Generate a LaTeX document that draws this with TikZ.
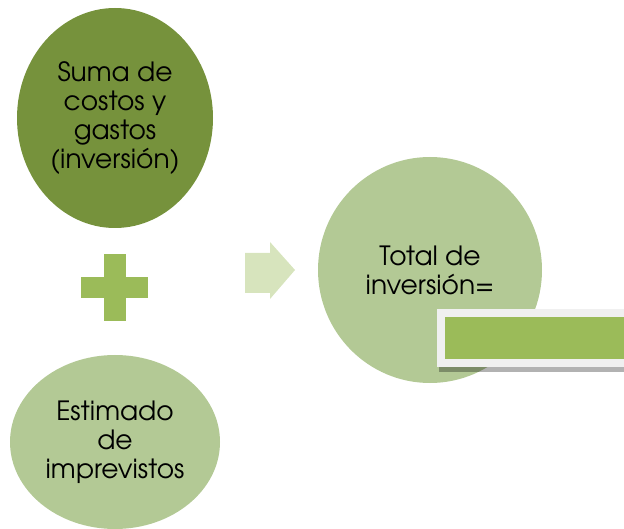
\documentclass[tikz,border=0pt]{standalone}
\usepackage{fontspec}
\setmainfont{TeX Gyre Adventor}
\usepackage{tikz}
\usetikzlibrary{positioning,calc}
\definecolor{olive}{RGB}{118, 146, 60}
\definecolor{leaf}{RGB}{155, 187, 89}
\definecolor{sage}{RGB}{179, 201, 149}
\definecolor{mint}{RGB}{215, 228, 189}
\definecolor{frame}{RGB}{240, 240, 240}

\tikzset{
  label text/.style={align=center, font=\fontsize{26.5}{29}\selectfont, text=black}
}

\begin{document}
\begin{tikzpicture}[x=1pt, y=-1pt]
        \useasboundingbox (0,0) rectangle (624,529);

        % suma de costos
        \fill[olive] (115,118) ellipse (98pt and 110pt);
        \node[label text] (suma) at (115,118) {Suma de\\costos y\\gastos\\(inversión)};

        % signo mas
        \fill[leaf] (104,254) rectangle (126,321);
        \fill[leaf] (81,277) rectangle (148,298);

        % imprevistos
        \fill[sage] (115,442) ellipse (105pt and 87pt);
        \node[label text] (imprevistos) at (115,442) {Estimado\\de\\imprevistos};

        % flecha
        \fill[mint] (245,253) -- (270,253) -- (270,242) -- (295,270) -- (270,299) -- (270,293) -- (245,293) -- cycle;

        % total
        \fill[sage] (430,270) ellipse (112pt and 113pt);
        \node[label text] (total) at (430,270) {Total de\\inversión=};

        % caja resultado
        \fill[black, opacity=.3] (439,362) rectangle (624,372);
        \fill[frame] (437,309) rectangle (624,367);
        \fill[leaf] (445,317) rectangle (624,359);
        \node[minimum width=179pt, minimum height=42pt, inner sep=0pt] (resultado) at (534.5,338) {};
\end{tikzpicture}
\end{document}
